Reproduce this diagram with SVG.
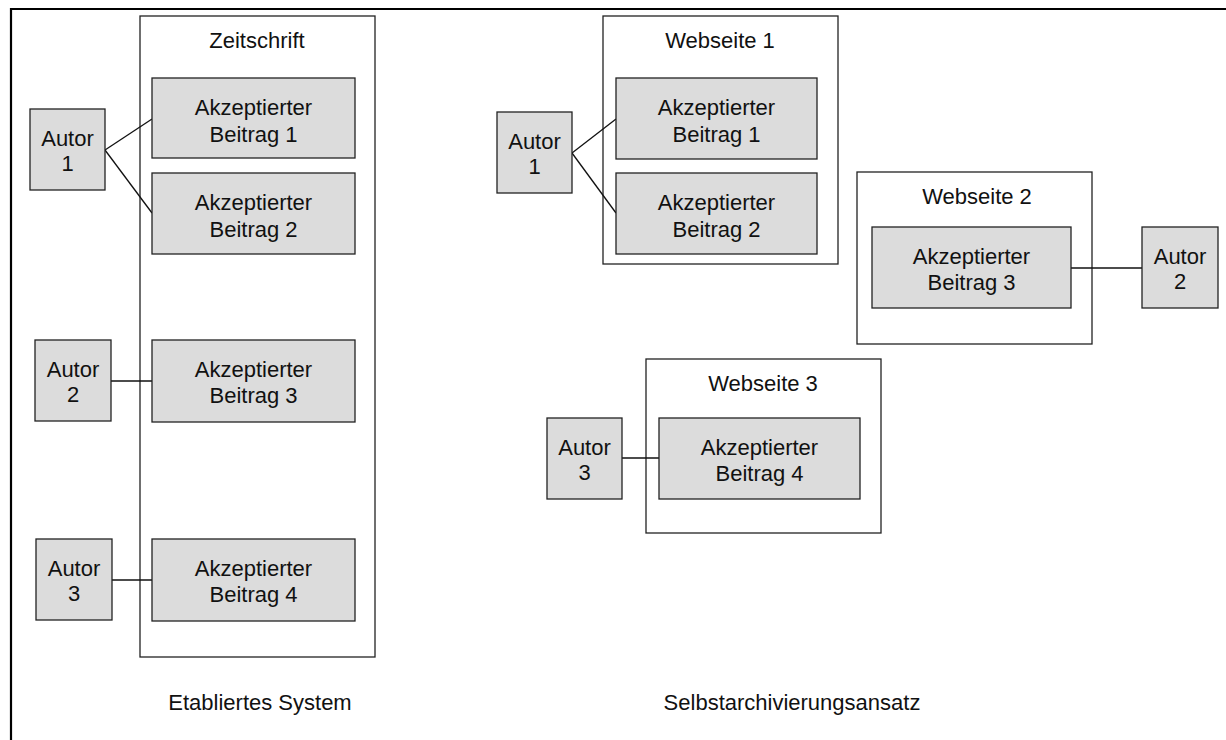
<svg xmlns="http://www.w3.org/2000/svg" width="1226" height="740" viewBox="0 0 1226 740">
  <style>
    .frame { fill: none; stroke: #000; stroke-width: 2.2; }
    .container { fill: #fff; stroke: #222; stroke-width: 1.3; }
    .item { fill: #dcdcdc; stroke: #222; stroke-width: 1.3; }
    .link { fill: none; stroke: #111; stroke-width: 1.3; }
    text { font-family: "Liberation Sans", Arial, sans-serif; font-size: 22px; fill: #111; text-anchor: middle; }
  </style>
  <rect width="1226" height="740" fill="#fff"/>
  <!-- outer frame (top and left edges only) -->
  <path class="frame" d="M11,740 V9 H1226"/>

  <!-- left half: established system -->
  <g id="zeitschrift">
    <rect class="container" x="140" y="16" width="235" height="641"/>
    <text x="257" y="47.5">Zeitschrift</text>
  </g>

  <!-- right half: self archiving -->
  <g id="webseite1">
    <rect class="container" x="603" y="16" width="235" height="248"/>
    <text x="720" y="47.5">Webseite 1</text>
  </g>
  <g id="webseite2">
    <rect class="container" x="857" y="172" width="235" height="172"/>
    <text x="977" y="203.5">Webseite 2</text>
  </g>
  <g id="webseite3">
    <rect class="container" x="646" y="359" width="235" height="174"/>
    <text x="763" y="390.5">Webseite 3</text>
  </g>

  <g id="connectors">
    <line class="link" x1="105" y1="150" x2="152" y2="119"/>
    <line class="link" x1="105" y1="150" x2="152" y2="213"/>
    <line class="link" x1="111" y1="381" x2="152" y2="381"/>
    <line class="link" x1="112" y1="580" x2="152" y2="580"/>
    <line class="link" x1="572" y1="153" x2="616" y2="119"/>
    <line class="link" x1="572" y1="153" x2="616" y2="213"/>
    <line class="link" x1="1071" y1="268" x2="1142" y2="268"/>
    <line class="link" x1="622" y1="458" x2="659" y2="458"/>
  </g>

  <g id="l-autor1">
    <rect class="item" x="30" y="109" width="75" height="81"/>
    <text x="67.5" y="146">Autor</text>
    <text x="67.5" y="171">1</text>
  </g>
  <g id="l-beitrag1">
    <rect class="item" x="152" y="78" width="203" height="80"/>
    <text x="253.5" y="114.5">Akzeptierter</text>
    <text x="253.5" y="141.5">Beitrag 1</text>
  </g>
  <g id="l-beitrag2">
    <rect class="item" x="152" y="173" width="203" height="81"/>
    <text x="253.5" y="209.5">Akzeptierter</text>
    <text x="253.5" y="236.5">Beitrag 2</text>
  </g>
  <g id="l-autor2">
    <rect class="item" x="35" y="340" width="76" height="81"/>
    <text x="73" y="376.5">Autor</text>
    <text x="73" y="402">2</text>
  </g>
  <g id="l-beitrag3">
    <rect class="item" x="152" y="340" width="203" height="82"/>
    <text x="253.5" y="376.5">Akzeptierter</text>
    <text x="253.5" y="402.5">Beitrag 3</text>
  </g>
  <g id="l-autor3">
    <rect class="item" x="36" y="539" width="76" height="81"/>
    <text x="74" y="575.5">Autor</text>
    <text x="74" y="601">3</text>
  </g>
  <g id="l-beitrag4">
    <rect class="item" x="152" y="539" width="203" height="82"/>
    <text x="253.5" y="575.5">Akzeptierter</text>
    <text x="253.5" y="601.5">Beitrag 4</text>
  </g>

  <g id="r-autor1">
    <rect class="item" x="497" y="112" width="75" height="81"/>
    <text x="534.5" y="149">Autor</text>
    <text x="534.5" y="174">1</text>
  </g>
  <g id="r-beitrag1">
    <rect class="item" x="616" y="78" width="201" height="81"/>
    <text x="716.5" y="114.5">Akzeptierter</text>
    <text x="716.5" y="141.5">Beitrag 1</text>
  </g>
  <g id="r-beitrag2">
    <rect class="item" x="616" y="173" width="201" height="81"/>
    <text x="716.5" y="209.5">Akzeptierter</text>
    <text x="716.5" y="236.5">Beitrag 2</text>
  </g>
  <g id="r-beitrag3">
    <rect class="item" x="872" y="227" width="199" height="81"/>
    <text x="971.5" y="263.5">Akzeptierter</text>
    <text x="971.5" y="289.5">Beitrag 3</text>
  </g>
  <g id="r-autor2">
    <rect class="item" x="1142" y="227" width="76" height="81"/>
    <text x="1180" y="263.5">Autor</text>
    <text x="1180" y="289">2</text>
  </g>
  <g id="r-autor3">
    <rect class="item" x="547" y="418" width="75" height="81"/>
    <text x="584.5" y="454.5">Autor</text>
    <text x="584.5" y="480">3</text>
  </g>
  <g id="r-beitrag4">
    <rect class="item" x="659" y="418" width="201" height="81"/>
    <text x="759.5" y="454.5">Akzeptierter</text>
    <text x="759.5" y="480.5">Beitrag 4</text>
  </g>

  <g id="captions">
    <text x="260" y="709.5">Etabliertes System</text>
    <text x="792" y="710">Selbstarchivierungsansatz</text>
  </g>
</svg>
